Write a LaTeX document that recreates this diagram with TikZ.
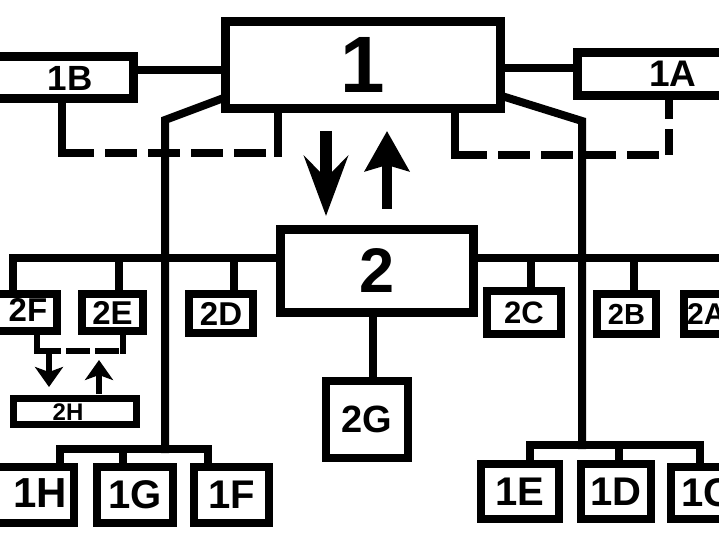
\documentclass[tikz,border=0pt]{standalone}
\usepackage{fontspec}
\setmainfont{Liberation Sans}
\usetikzlibrary{arrows.meta}
\begin{document}
\begin{tikzpicture}[x=1pt,y=-1pt,
  box/.style={draw=black,line width=8pt,fill=white,rectangle,inner sep=0pt},
  lab/.style={font=\bfseries\fontsize{#1}{#1}\selectfont,inner sep=0pt},
  wire/.style={line width=8pt,line cap=rect},
  dashwire/.style={line width=8pt,dash pattern=on 32pt off 11pt},
  thinwire/.style={line width=6pt,line cap=rect},
  thindash/.style={line width=6pt,dash pattern=on 24pt off 5pt},
  bigdown/.style={line width=12pt,-{Stealth[length=60pt,width=44pt,inset=22pt]}},
  bigup/.style={line width=10pt,-{Stealth[length=40pt,width=44pt,inset=6pt]}},
  smallarr/.style={line width=6pt,-{Stealth[length=20pt,width=28pt,inset=5pt]}}]
\useasboundingbox (0,0) rectangle (719,534);
\clip (0,0) rectangle (719,534);
\fill[white] (0,0) rectangle (719,534);

% top level
\node[box,line width=9pt,minimum width=275pt,minimum height=87pt,lab=80] (n1) at (363,65) {1};
\node[box,line width=9pt,minimum width=149pt,minimum height=42pt] (n1B) at (59,77.5) {};
\node[box,line width=9pt,minimum width=158pt,minimum height=43pt] (n1A) at (656.5,74) {};

% second level
\node[box,line width=9pt,minimum width=193pt,minimum height=83pt,lab=63] (n2) at (377,271) {2};
\node[box,minimum width=73pt,minimum height=37pt] (n2F) at (20.5,312.5) {};
\node[box,minimum width=61pt,minimum height=37pt,lab=33] (n2E) at (112.5,312.5) {2E};
\node[box,minimum width=64pt,minimum height=39pt,lab=33] (n2D) at (221,313.5) {2D};
\node[box,minimum width=74pt,minimum height=43pt,lab=31] (n2C) at (524,312.5) {2C};
\node[box,minimum width=59pt,minimum height=40pt,lab=29] (n2B) at (626.5,314) {2B};
\node[box,minimum width=72pt,minimum height=40pt] (n2A) at (720,314) {};
\node[box,minimum width=82pt,minimum height=77pt,lab=38] (n2G) at (367,419.5) {2G};
\node[box,line width=7pt,minimum width=123pt,minimum height=26pt] (n2H) at (75,411.5) {};

% bottom row
\node[box,minimum width=90pt,minimum height=56pt] (n1H) at (29,495) {};
\node[box,minimum width=76pt,minimum height=56pt,lab=40] (n1G) at (135,495) {1G};
\node[box,minimum width=75pt,minimum height=56pt,lab=40] (n1F) at (231.5,495) {1F};
\node[box,minimum width=78pt,minimum height=55pt,lab=40] (n1E) at (520,491.5) {1E};
\node[box,minimum width=70pt,minimum height=55pt,lab=40] (n1D) at (616,491.5) {1D};
\node[box,minimum width=85pt,minimum height=52pt] (n1C) at (713.5,493) {};

% coordinates
\coordinate (lb1) at (62,153);
\coordinate (lb2) at (278,153);
\coordinate (rb1) at (455,155);
\coordinate (rb2) at (669,155);
\coordinate (dl) at (165,120);
\coordinate (dr) at (582,121);
\coordinate (barL) at (165,449);
\coordinate (barR) at (582,445);
\coordinate (r2end) at (730,258);
\coordinate (hl) at (37,351);
\coordinate (hr) at (123,351);

% connectors 1 - 1B - 1A
\draw[wire] (n1B.east |- 0,70) -- (n1.west |- 0,70);
\draw[wire] (n1.east |- 0,68) -- (n1A.west |- 0,68);
\draw[wire] (n1B.south -| lb1) -- (lb1);
\draw[dashwire] (lb1) -- (lb2);
\draw[wire] (lb2) -- (n1.south -| lb2);
\draw[wire] (n1.south -| rb1) -- (rb1);
\draw[dashwire] (rb1) -- (rb2);
\draw[line width=8pt,dash pattern=on 26pt off 10pt on 60pt] (rb2) -- (n1A.south -| rb2);

% diagonals from 1 down to bottom groups
\draw[wire,line join=miter] (n1.west |- 0,99) -- (dl) -- (barL);
\draw[wire,line join=miter] (n1.east |- 0,97) -- (dr) -- (barR);
\draw[wire] (n1H.north -| 60,0) -- (60,449) -- (208,449) -- (n1F.north -| 208,0);
\draw[wire] (n1G.north -| 123,0) -- (123,449);
\draw[wire] (n1E.north -| 530,0) -- (530,445) -- (700,445) -- (n1C.north -| 700,0);
\draw[wire] (n1D.north -| 619,0) -- (619,445);

% bar through 2
\draw[wire] (n2F.north -| 13,0) -- (13,258) -- (n2.west |- 0,258);
\draw[wire] (n2E.north -| 119,0) -- (119,258);
\draw[wire] (n2D.north -| 234,0) -- (234,258);
\draw[wire] (n2.east |- 0,258) -- (r2end);
\draw[wire] (n2C.north -| 531,0) -- (531,258);
\draw[wire] (n2B.north -| 634,0) -- (634,258);
\draw[wire] (n2.south -| 373,0) -- (n2G.north -| 373,0);

% 2F / 2E bracket and 2H
\draw[thinwire] (n2F.south -| hl) -- (hl);
\draw[thindash] (hl) -- (hr);
\draw[thinwire] (hr) -- (n2E.south -| hr);
\draw[smallarr,shorten <=3pt,shorten >=8pt] (hl -| 49,0) -- (n2H.north -| 49,0);
\draw[smallarr,shorten <=1pt,shorten >=9pt] (n2H.north -| 99,0) -- (hr -| 99,0);

% big arrows between 1 and 2
\draw[bigdown,shorten <=18pt,shorten >=9pt] (n1.south -| 326,0) -- (n2.north -| 326,0);
\draw[bigup,shorten <=16pt,shorten >=18pt] (n2.north -| 387,0) -- (n1.south -| 387,0);

% labels of boxes cut by the picture edge
\node[lab=35] (n1Bt) at (70,78) {1B};
\node[lab=37] (n1At) at (673,74) {1A};
\node[lab=33] (n2Ft) at (28,310) {2F};
\node[lab=30,anchor=west] (n2At) at (687,314) {2A};
\node[lab=24] (n2Ht) at (68,412) {2H};
\node[lab=42] (n1Ht) at (40,493) {1H};
\node[lab=40,anchor=west] (n1Ct) at (681,493) {1C};
\end{tikzpicture}
\end{document}
